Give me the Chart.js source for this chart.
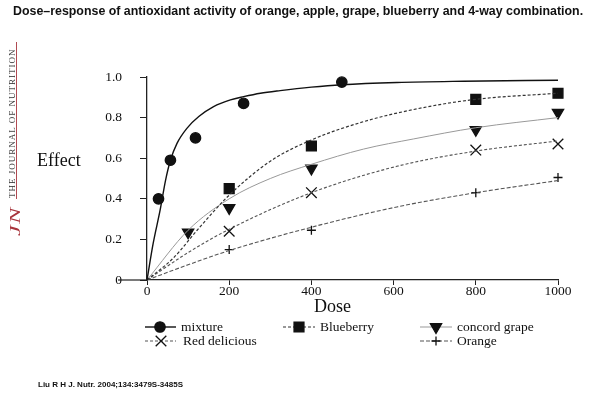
<!DOCTYPE html>
<html lang="en">
<head>
<meta charset="UTF-8">
<title>Dose-response</title>
<script src="https://cdn.jsdelivr.net/npm/chart.js"></script>
<style>
    body {
        margin: 0;
        background: #ffffff;
        font-family: 'Liberation Serif', serif;
    }
    .wrap {
        position: relative;
        width: 590px;
        height: 395px;
        overflow: hidden;
    }
    canvas { position: absolute; left: 0; top: 0; }
    .title {
        position: absolute;
        left: 13px;
        top: 4px;
        font: bold 12px 'Liberation Sans', Arial, sans-serif;
        white-space: nowrap;
        transform-origin: 0 0;
        color: #111;
    }
    .effect, .dose {
        position: absolute;
        font-size: 18px;
        color: #111;
        line-height: 18px;
    }
    .effect { left: 37px; top: 151px; }
    .dose { left: 314px; top: 297px; }
    .ref {
        position: absolute;
        left: 38px;
        top: 380px;
        font: bold 8px 'Liberation Sans', Arial, sans-serif;
        color: #111;
    }
    .logo {
        position: absolute;
        width: 196px;
        height: 14px;
        left: -84px;
        top: 132.5px;
        transform: rotate(-90deg);
        white-space: nowrap;
    }
    .logo .jn {
        position: absolute;
        left: 2px;
        top: 0.5px;
        display: inline-block;
        font-style: italic;
        font-size: 15px;
        line-height: 15px;
        letter-spacing: 1px;
        color: #a8343c;
        transform: scaleX(1.6);
        transform-origin: 0 0;
    }
    .logo .name {
        position: absolute;
        left: 40px;
        top: 0.5px;
        font-size: 9px;
        line-height: 9px;
        letter-spacing: 1px;
        color: #3a3a3a;
    }
    .logo .rule {
        position: absolute;
        left: 39px;
        top: 8.5px;
        width: 157px;
        height: 1px;
        background: #b04a52;
    }
</style>
</head>
<body>
<div class="wrap">
    <canvas id="chart" width="590" height="395"></canvas>
    <div class="title" id="title">Dose–response of antioxidant activity of orange, apple, grape, blueberry and 4-way combination.</div>
    <div class="logo"><span class="jn">JN</span><span class="name">THE JOURNAL OF NUTRITION</span><div class="rule"></div></div>
    <div class="effect">Effect</div>
    <div class="dose">Dose</div>
    <div class="ref">Liu R H J. Nutr. 2004;134:3479S-3485S</div>
</div>
<script>
// axis ticks
const doseTicks = [0, 200, 400, 600, 800, 1000];
const effectTicks = [0, 0.2, 0.4, 0.6, 0.8, 1.0];

// measured points (markers)
const mixtureDose = [28, 57, 118, 235, 474];
const mixtureEffect = [0.40, 0.59, 0.70, 0.87, 0.975];
const blueberryDose = [200, 400, 800, 1000];
const blueberryEffect = [0.45, 0.66, 0.89, 0.92];
const grapeDose = [100, 200, 400, 800, 1000];
const grapeEffect = [0.235, 0.355, 0.55, 0.74, 0.825];
const redDose = [200, 400, 800, 1000];
const redEffect = [0.24, 0.43, 0.64, 0.67];
const orangeDose = [200, 400, 800, 1000];
const orangeEffect = [0.15, 0.245, 0.43, 0.505];

// fitted curves
const mixtureFitDose = [0, 15, 32, 45, 57, 73, 97, 126, 162, 203, 235, 276, 324, 400, 474, 608, 770, 1000];
const mixtureFitEffect = [0, 0.18, 0.345, 0.49, 0.59, 0.673, 0.747, 0.805, 0.854, 0.887, 0.903, 0.92, 0.933, 0.95, 0.962, 0.973, 0.979, 0.984];
const blueberryFitDose = [0, 65, 122, 196, 300, 400, 527, 649, 800, 1000];
const blueberryFitEffect = [0, 0.11, 0.245, 0.41, 0.585, 0.69, 0.78, 0.84, 0.89, 0.92];
const grapeFitDose = [0, 100, 200, 300, 400, 527, 649, 800, 1000];
const grapeFitEffect = [0, 0.245, 0.40, 0.50, 0.57, 0.645, 0.695, 0.75, 0.80];
const redFitDose = [0, 100, 200, 400, 608, 800, 1000];
const redFitEffect = [0, 0.135, 0.25, 0.43, 0.56, 0.635, 0.685];
const orangeFitDose = [0, 100, 200, 400, 608, 800, 1000];
const orangeFitEffect = [0, 0.075, 0.145, 0.26, 0.36, 0.43, 0.49];

function pts(xs, ys) {
    return xs.map((x, i) => ({ x: x, y: ys[i] }));
}

// fit title to the width in the picture
const titleEl = document.getElementById('title');
titleEl.style.transform = 'scaleX(' + (570 / titleEl.offsetWidth) + ')';

const series = [
    { name: 'mixture', fit: pts(mixtureFitDose, mixtureFitEffect), marks: pts(mixtureDose, mixtureEffect),
      color: '#111', dash: [], width: 1.4, style: 'circle', radius: 5.2, rotation: 0 },
    { name: 'Blueberry', fit: pts(blueberryFitDose, blueberryFitEffect), marks: pts(blueberryDose, blueberryEffect),
      color: '#333', dash: [3, 2], width: 1.2, style: 'rect', radius: 7, rotation: 0 },
    { name: 'concord grape', fit: pts(grapeFitDose, grapeFitEffect), marks: pts(grapeDose, grapeEffect),
      color: '#999', dash: [], width: 1, style: 'triangle', radius: 6.5, rotation: 180 },
    { name: 'Red delicious', fit: pts(redFitDose, redFitEffect), marks: pts(redDose, redEffect),
      color: '#555', dash: [3, 2], width: 1.1, style: 'crossRot', radius: 7.5, rotation: 0 },
    { name: 'Orange', fit: pts(orangeFitDose, orangeFitEffect), marks: pts(orangeDose, orangeEffect),
      color: '#555', dash: [4, 2], width: 1.1, style: 'cross', radius: 4.5, rotation: 0 }
];

const datasets = [];
series.forEach(s => {
    datasets.push({
        label: s.name + ' fit',
        data: s.fit,
        showLine: true,
        borderColor: s.color,
        borderWidth: s.width,
        borderDash: s.dash,
        pointRadius: 0,
        cubicInterpolationMode: 'monotone',
        fill: false
    });
    datasets.push({
        label: s.name,
        data: s.marks,
        showLine: false,
        pointStyle: s.style,
        pointRadius: s.radius,
        pointRotation: s.rotation,
        pointBackgroundColor: '#111',
        pointBorderColor: '#111',
        pointBorderWidth: 1.3
    });
});

// legend positions in the picture
const legendSlots = [
    { x1: 145, x2: 176, y: 327, mark: 160, text: 181 },
    { x1: 283, x2: 315, y: 327, mark: 299, text: 320 },
    { x1: 420, x2: 452, y: 327, mark: 436, text: 457 },
    { x1: 145, x2: 176, y: 341, mark: 161, text: 183 },
    { x1: 420, x2: 452, y: 341, mark: 436, text: 457 }
];

const decor = {
    id: 'decor',
    afterDraw(chart) {
        const ctx = chart.ctx;
        const area = chart.chartArea;
        ctx.save();
        // x axis runs on to the "0" label
        ctx.strokeStyle = '#222';
        ctx.lineWidth = 1.2;
        ctx.beginPath();
        ctx.moveTo(area.left - 29, area.bottom);
        ctx.lineTo(area.left, area.bottom);
        ctx.stroke();
        // legend
        series.forEach((s, i) => {
            const slot = legendSlots[i];
            ctx.setLineDash(s.dash);
            ctx.strokeStyle = s.color;
            ctx.lineWidth = s.width;
            ctx.beginPath();
            ctx.moveTo(slot.x1, slot.y);
            ctx.lineTo(slot.x2, slot.y);
            ctx.stroke();
            ctx.setLineDash([]);
            ctx.fillStyle = '#111';
            ctx.strokeStyle = '#111';
            ctx.lineWidth = 1.3;
            Chart.helpers.drawPoint(ctx, {
                pointStyle: s.style, radius: s.radius, rotation: s.rotation, borderWidth: 1.3
            }, slot.mark, slot.y);
            ctx.fillStyle = '#111';
            ctx.font = '13.5px "Liberation Serif", serif';
            ctx.textBaseline = 'middle';
            ctx.fillText(s.name, slot.text, slot.y);
        });
        ctx.restore();
    }
};

new Chart(document.getElementById('chart'), {
    type: 'scatter',
    data: { datasets: datasets },
    options: {
        responsive: false,
        animation: false,
        clip: false,
        layout: { padding: { left: 0, top: 77, right: 32, bottom: 95 } },
        plugins: { legend: { display: false }, tooltip: { enabled: false } },
        scales: {
            x: {
                type: 'linear',
                min: 0,
                max: 1000,
                afterFit(scale) { scale.height = 20; },
                afterBuildTicks(scale) { scale.ticks = doseTicks.map(v => ({ value: v })); },
                border: { display: true, color: '#222', width: 1.3 },
                grid: { display: true, drawOnChartArea: false, drawTicks: true, tickLength: 5, color: '#222' },
                ticks: {
                    padding: -2,
                    color: '#111',
                    font: { family: 'Liberation Serif', size: 13.5 },
                    maxRotation: 0,
                    callback: v => String(v)
                }
            },
            y: {
                type: 'linear',
                min: 0,
                max: 1,
                afterFit(scale) { scale.width = 147; },
                afterBuildTicks(scale) { scale.ticks = effectTicks.map(v => ({ value: v })); },
                border: { display: true, color: '#222', width: 1.3 },
                grid: { display: true, drawOnChartArea: false, drawTicks: true, tickLength: 7, color: '#222' },
                ticks: {
                    padding: 18,
                    color: '#111',
                    font: { family: 'Liberation Serif', size: 13.5 },
                    callback: v => v === 0 ? '0' : v.toFixed(1)
                }
            }
        }
    },
    plugins: [decor]
});
</script>
</body>
</html>
